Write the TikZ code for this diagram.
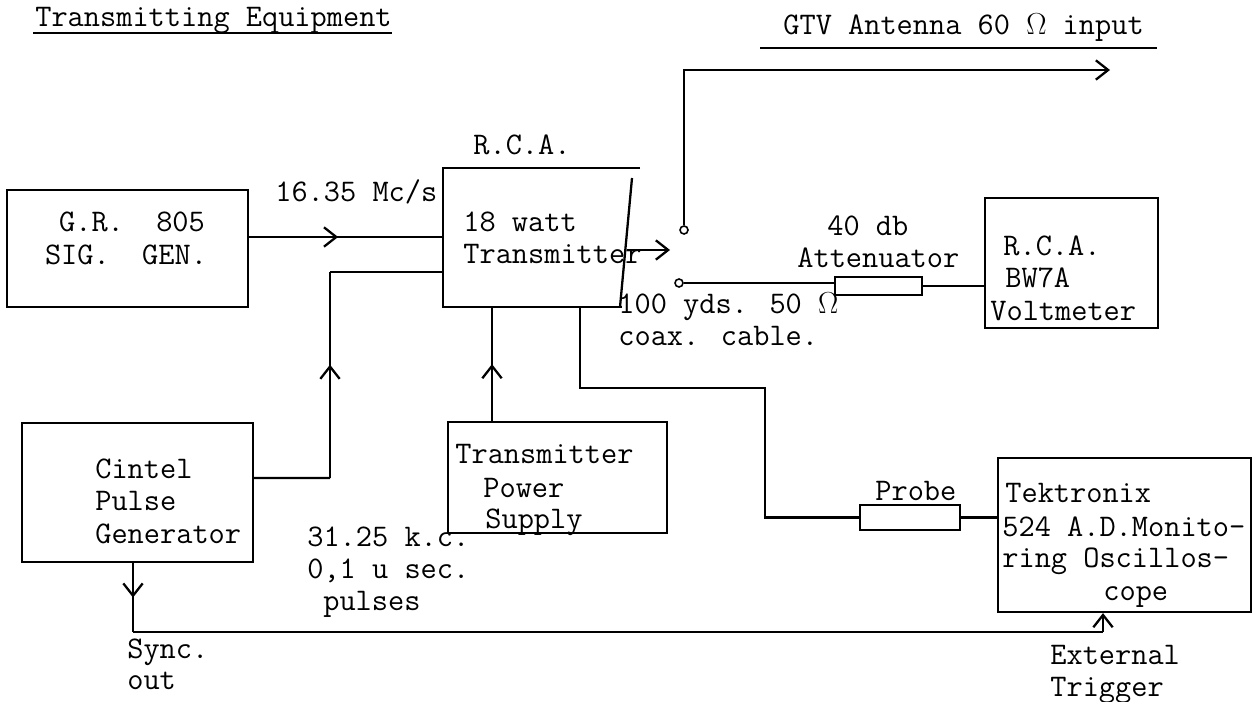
\documentclass[tikz,border=0pt]{standalone}
\usepackage{fontspec}
\usetikzlibrary{arrows.meta,decorations.markings}
\begin{document}
\begin{tikzpicture}[x=0.02cm,y=-0.02cm,
  every node/.style={font=\ttfamily\fontsize{17.9}{20}\selectfont},
  lw/.style={line width=1.3pt},
  box/.style={draw,line width=1.3pt,inner sep=0pt},
  hid/.style={draw=none,inner sep=0pt},
  tl/.style={anchor=base west,inner sep=0pt},
  tc/.style={anchor=base,inner sep=0pt},
  barb/.style={-{Straight Barb[length=7pt,width=11pt]}},
  midarr/.style={postaction={decorate},decoration={markings,
     mark=at position #1 with {\arrow{Straight Barb[length=7pt,width=11pt]}}}}]
\useasboundingbox (0,0) rectangle (1257,702);

% titles
\node[tl] (title1) at (35,27) {Transmitting Equipment};
\draw[lw] (33,33) -- (392,33);
\node[tl] (title2) at (783,35) {GTV Antenna 60 $\Omega$ input};
\draw[lw] (760,48) -- (1157,48);

% boxes
\node[box,minimum width=4.82cm,minimum height=2.34cm] (gr) at (127.5,248.5) {};
\node[tc] (grt1) at (132,232) {G.R.\ \ 805};
\node[tc] (grt2) at (126,265) {SIG.\ \ GEN.};

\node[hid,minimum width=3.74cm,minimum height=2.78cm] (tx) at (536.5,237.5) {};
\draw[lw] (640,168) -- (443,168) -- (443,307) -- (622,307);
\draw[lw] (632,178) -- (620,307);
\node[tl] (rca) at (473,155) {R.C.A.};
\node[tl] (txt1) at (463,232) {18 watt};
\node[tl] (txt2) at (463,264) {Transmitter};

\node[box,minimum width=3.46cm,minimum height=2.6cm] (volt) at (1071.5,263) {};
\node[tl] (vt1) at (1003,256) {R.C.A.};
\node[tl] (vt2) at (1005,288) {BW7A};
\node[tl] (vt3) at (990,321) {Voltmeter};

\node[box,minimum width=4.62cm,minimum height=2.78cm] (cintel) at (137.5,492.5) {};
\node[tl] (ct1) at (95,478) {Cintel};
\node[tl] (ct2) at (95,510) {Pulse};
\node[tl] (ct3) at (95,543) {Generator};

\node[box,minimum width=4.38cm,minimum height=2.22cm] (ps) at (557.5,477.5) {};
\node[tl] (pst1) at (455,463) {Transmitter};
\node[tl] (pst2) at (483,497) {Power};
\node[tl] (pst3) at (485,528) {Supply};

\node[box,minimum width=5.06cm,minimum height=3.08cm] (scope) at (1124.5,535) {};
\node[tl] (sc1) at (1005,502) {Tektronix};
\node[tl] (sc2) at (1002,536) {524 A.D.Monito-};
\node[tl] (sc3) at (1002,567) {ring Oscillos-};
\node[tl] (sc4) at (1103,600) {cope};

\node[box,minimum width=1.74cm,minimum height=0.36cm] (att) at (878.5,286) {};
\node[tl] (att1) at (827,236) {40 db};
\node[tl] (att2) at (797,268) {Attenuator};

\node[box,minimum width=2.0cm,minimum height=0.5cm] (probe) at (910,517.5) {};
\node[tl] (probet) at (875,500) {Probe};

% other labels
\node[tl] (freq) at (275,202) {16.35 Mc/s};
\node[tl] (coax1) at (618,314) {100 yds. 50 $\Omega$};
\node[tl] (coax2) at (618,346) {coax. cable.};
\node[tl] (pl1) at (307,546) {31.25 k.c.};
\node[tl] (pl2) at (307,578) {0,1 u sec.};
\node[tl] (pl3) at (323,610) {pulses};
\node[tl] (sync1) at (127,658) {Sync.};
\node[tl] (sync2) at (127,689) {out};
\node[tl] (ext1) at (1050,664) {External};
\node[tl] (ext2) at (1050,696) {Trigger};

% switch contacts
\node[draw,circle,inner sep=0pt,minimum size=0.16cm,line width=0.9pt] (c1) at (684,230) {};
\node[draw,circle,inner sep=0pt,minimum size=0.16cm,line width=0.9pt] (c2) at (679,283) {};

% coordinates
\coordinate (antend) at (1110,70);
\coordinate (txout) at (627,250);
\coordinate (swin) at (670,250);
\coordinate (pj) at (330,272);
\coordinate (pc) at (330,478);
\coordinate (pv) at (492,0);
\coordinate (tb) at (580,0);
\coordinate (k1) at (765,388);
\coordinate (sx) at (133,0);
\coordinate (sy) at (133,632);
\coordinate (ty) at (1103,632);

% connectors
\draw[lw,midarr=0.46] ([yshift=0.23cm]gr.east) -- ([yshift=0.23cm]gr.east -| tx.west);
\draw[lw] ([yshift=0.29cm]cintel.east) -- (pc);
\draw[lw,midarr=0.55] (pc) -- (pj);
\draw[lw] (pj) -- (pj -| tx.west);
\draw[lw,midarr=0.5] (pv |- ps.north) -- (pv |- tx.south);
\draw[lw] (tb |- tx.south) |- (k1) |- (probe.west);
\draw[lw] (probe.east) -- (probe.east -| scope.west);
\draw[lw,barb] (txout) -- (swin);
\draw[lw,barb] (c1.north) |- (antend);
\draw[lw] (c2.east) -- (c2.east -| att.west);
\draw[lw] (att.east) -- (att.east -| volt.west);
\draw[lw,midarr=0.5] (sx |- cintel.south) -- (sy);
\draw[lw] (sy) -- (ty);
\draw[lw,barb] (ty) -- (ty |- scope.south);
\end{tikzpicture}
\end{document}
